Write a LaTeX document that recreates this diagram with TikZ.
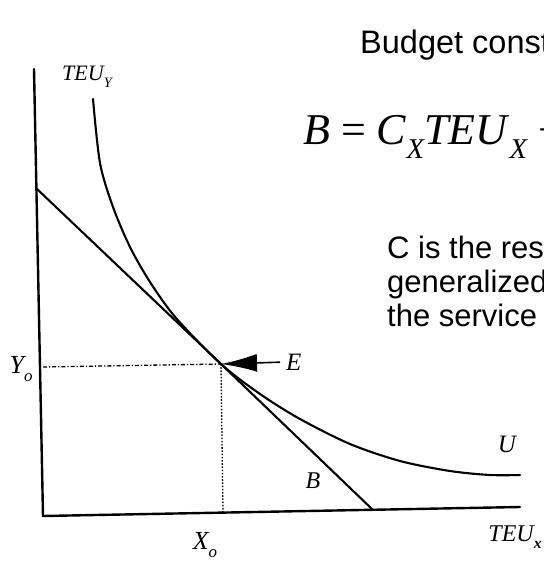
\documentclass[tikz,border=0pt]{standalone}
\usepackage{fontspec}
\usepackage{graphicx}
\setmainfont{Liberation Serif}
\setsansfont{Liberation Sans}
\usetikzlibrary{arrows.meta}
\newcommand\subx[1]{\raisebox{-0.32em}{\scalebox{0.65}{#1}}}
\begin{document}
\begin{tikzpicture}[x=1pt,y=-1pt,
  axis/.style={line width=2.4pt,line cap=round},
  curve/.style={line width=2.1pt,line cap=round},
  guide/.style={line width=1.3pt},
  lab/.style={inner sep=0pt,font=\itshape},
  sans/.style={inner sep=0pt,anchor=base west,font=\sffamily\fontsize{31}{36}\selectfont}]
\clip (0,0) rectangle (544,563);
\fill[white] (0,0) rectangle (544,563);
% key points
\coordinate (O) at (43,516);
\coordinate (Ytop) at (34,69);
\coordinate (Xend) at (520,507);
\coordinate (Bstart) at (37,189);
\coordinate (E) at (221,364);
\coordinate (Bend) at (373,510);
\coordinate (Yfoot) at (43,367);
\coordinate (Xfoot) at (223,513);
% axes
\draw[axis] (Ytop) -- (O) -- (Xend);
% budget line
\draw[curve] (Bstart) -- (E) -- (Bend);
% indifference curve U
\draw[curve] plot[smooth,tension=0.5] coordinates {(93,99) (100,163) (113,207) (130,247) (150,282) (176,318) (E) (260,394) (300,419) (350,444) (400,461) (450,471) (490,475) (520,475)};
% guide lines
\draw[guide,dash pattern=on 4pt off 2pt on 1.2pt off 2pt] (Yfoot) -- (E);
\draw[guide,dash pattern=on 1.6pt off 1.6pt] (E) -- (Xfoot);
% labels
\node[lab,anchor=west,font=\itshape\fontsize{25}{25}\selectfont] (Elab) at (286,362) {E};
\draw[line width=1.6pt,shorten <=6pt,-{Latex[length=36pt,width=18pt]}] (Elab.west) -- (E);
\node[lab,font=\itshape\fontsize{22}{22}\selectfont] (ty) at (87,77) {TEU\subx{Y}};
\node[lab,font=\itshape\fontsize{26}{26}\selectfont] (yo) at (21,369) {Y\subx{o}};
\node[lab,font=\itshape\fontsize{26}{26}\selectfont] (xo) at (205,545) {X\subx{o}};
\node[lab,font=\itshape\fontsize{24}{24}\selectfont] (tx) at (515,537) {TEU\subx{\bfseries x}};
\node[lab,font=\itshape\fontsize{25}{25}\selectfont] (ulab) at (507,444) {U};
\node[lab,font=\itshape\fontsize{24}{24}\selectfont] (blab) at (313,481) {B};
% text block
\node[sans,font=\sffamily\fontsize{32.5}{36}\selectfont] (bud) at (360,53) {Budget const};
\node[inner sep=0pt,anchor=base west,font=\fontsize{44}{48}\selectfont] (eq) at (303,144) {\textit{B} = \textit{C}\subx{\itshape X}\textit{TEU}\subx{\itshape X} +};
\node[sans] (c1) at (387,258) {C is the res};
\node[sans] (c2) at (387,292) {generalized};
\node[sans] (c3) at (387,326) {the service};
\end{tikzpicture}
\end{document}
